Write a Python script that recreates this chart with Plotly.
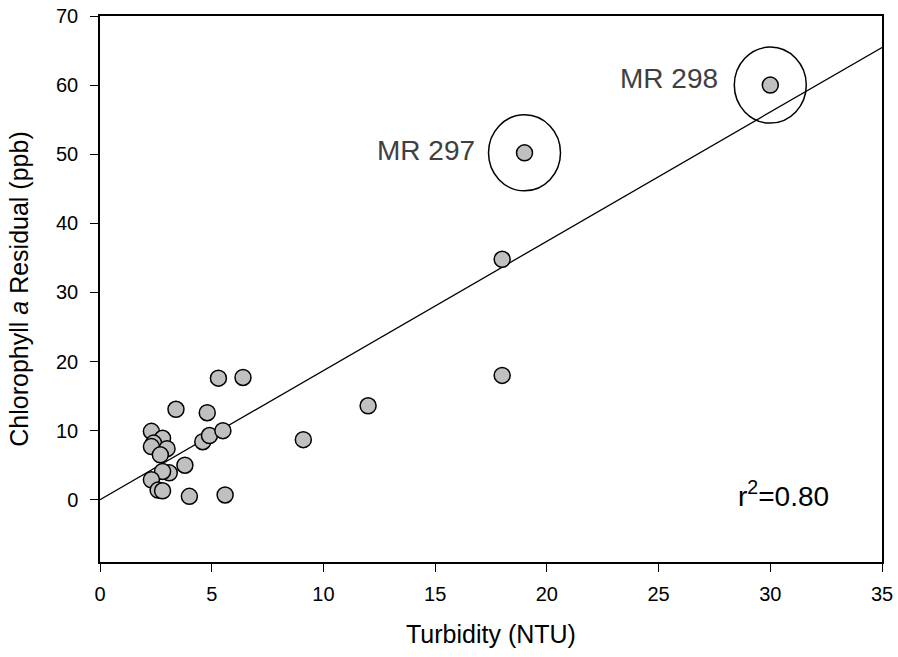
import plotly.graph_objects as go

# Data
turbidity = [30.0, 19.0, 18.0, 18.0, 12.0, 9.1,
             3.4, 4.8, 5.3, 6.4, 2.3, 2.8, 2.4, 2.3, 3.0, 2.7,
             4.6, 4.9, 5.5, 3.8, 3.1, 2.8, 2.3, 2.6, 2.8, 4.0, 5.6]
chl_residual = [60.0, 50.2, 34.8, 18.0, 13.6, 8.7,
                13.1, 12.6, 17.6, 17.7, 9.9, 8.9, 8.2, 7.7, 7.4, 6.5,
                8.4, 9.3, 10.0, 5.0, 3.9, 4.1, 2.9, 1.4, 1.3, 0.5, 0.7]

fit_slope = 1.87
fit_intercept = 0.0
x_axis_range = [0, 35]
y_axis_range = [-9, 70]
x_ticks = [0, 5, 10, 15, 20, 25, 30, 35]
y_ticks = [0, 10, 20, 30, 40, 50, 60, 70]

highlight_labels = ["MR 297", "MR 298"]
highlight_x = [19.0, 30.0]
highlight_y = [50.2, 60.0]
r2_text = "r<sup>2</sup>=0.80"

FONT = "Arial, Liberation Sans, sans-serif"

fig = go.Figure()

fit_x = x_axis_range
fit_y = [fit_intercept + fit_slope * v for v in fit_x]
fig.add_trace(go.Scatter(x=fit_x, y=fit_y, mode="lines",
                         line=dict(color="black", width=1.3),
                         showlegend=False, hoverinfo="skip", cliponaxis=True))

fig.add_trace(go.Scatter(x=turbidity, y=chl_residual, mode="markers",
                         marker=dict(size=16, color="#c0c0c0",
                                     line=dict(color="black", width=1.5)),
                         showlegend=False))

label_shifts = [(-48, 2), (-50, 7)]
for lab, hx, hy, (dx, dy) in zip(highlight_labels, highlight_x, highlight_y, label_shifts):
    fig.add_shape(type="circle", xref="x", yref="y",
                  xsizemode="pixel", ysizemode="pixel",
                  xanchor=hx, yanchor=hy,
                  x0=-36, x1=36, y0=-38, y1=38,
                  line=dict(color="black", width=1.5))
    fig.add_annotation(x=hx, y=hy, xref="x", yref="y", text=lab,
                       showarrow=False, xanchor="right", yanchor="middle",
                       xshift=dx, yshift=dy,
                       font=dict(family=FONT, size=28, color="#404040"))

fig.add_annotation(x=0.874, y=0.125, xref="paper", yref="paper", text=r2_text,
                   showarrow=False, xanchor="center", yanchor="middle",
                   font=dict(family=FONT, size=28, color="black"))

axis_common = dict(showline=True, linecolor="black", linewidth=1.5,
                   mirror=True, ticks="outside", ticklen=8, tickwidth=1.3,
                   tickcolor="black", showgrid=False, zeroline=False,
                   automargin=False,
                   tickfont=dict(family=FONT, size=20, color="black"))

fig.update_xaxes(range=x_axis_range, tickvals=x_ticks, ticklabelstandoff=5,
                 title=dict(text="Turbidity (NTU)",
                            font=dict(family=FONT, size=25, color="black"),
                            standoff=22),
                 **axis_common)
fig.update_yaxes(range=y_axis_range, tickvals=y_ticks, ticklabelstandoff=8,
                 title=dict(text="Chlorophyll <i>a</i> Residual (ppb)",
                            font=dict(family=FONT, size=25, color="black"),
                            standoff=20),
                 **axis_common)

fig.update_layout(width=898, height=657,
                  margin=dict(l=100, r=16, t=16, b=95),
                  plot_bgcolor="white", paper_bgcolor="white",
                  font=dict(family=FONT))

fig.write_html("out.html")
